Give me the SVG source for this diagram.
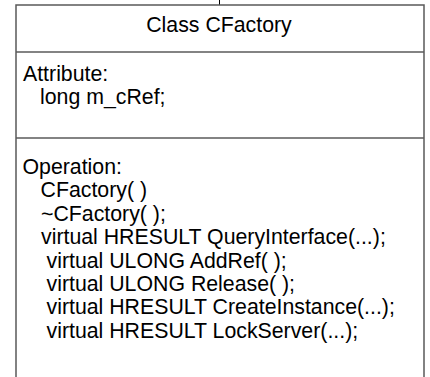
<svg xmlns="http://www.w3.org/2000/svg" width="430" height="377" viewBox="0 0 430 377">
  <style>
    .box { fill: #ffffff; stroke: #5a5a5a; stroke-width: 1.5; }
    .div { stroke: #5a5a5a; stroke-width: 1.5; fill: none; }
    .conn { stroke: #000000; stroke-width: 1; fill: none; }
    text { font-family: "Liberation Sans", Arial, sans-serif; font-size: 21.3px; fill: #000000; }
  </style>
  <rect width="430" height="377" fill="#ffffff"/>
  <g id="connectors">
    <line class="conn" x1="219.5" y1="0" x2="219.5" y2="5"/>
  </g>
  <g id="cfactory">
    <path class="box" d="M16,380 V5 H424 V380"/>
    <line class="div" x1="16" y1="52" x2="424" y2="52"/>
    <line class="div" x1="16" y1="138" x2="424" y2="138"/>
    <text x="219" y="32" text-anchor="middle">Class CFactory</text>
    <text x="23" y="80.5">Attribute:</text>
    <text x="40" y="103.5">long m_cRef;</text>
    <text x="22.5" y="174">Operation:</text>
    <text x="40.5" y="197.4">CFactory( )</text>
    <text x="41" y="220.8">~CFactory( );</text>
    <text x="41" y="244.2">virtual HRESULT QueryInterface(...);</text>
    <text x="46.5" y="267.6">virtual ULONG AddRef( );</text>
    <text x="46.5" y="291">virtual ULONG Release( );</text>
    <text x="46.5" y="314.4">virtual HRESULT CreateInstance(...);</text>
    <text x="46.5" y="337.8">virtual HRESULT LockServer(...);</text>
  </g>
</svg>
